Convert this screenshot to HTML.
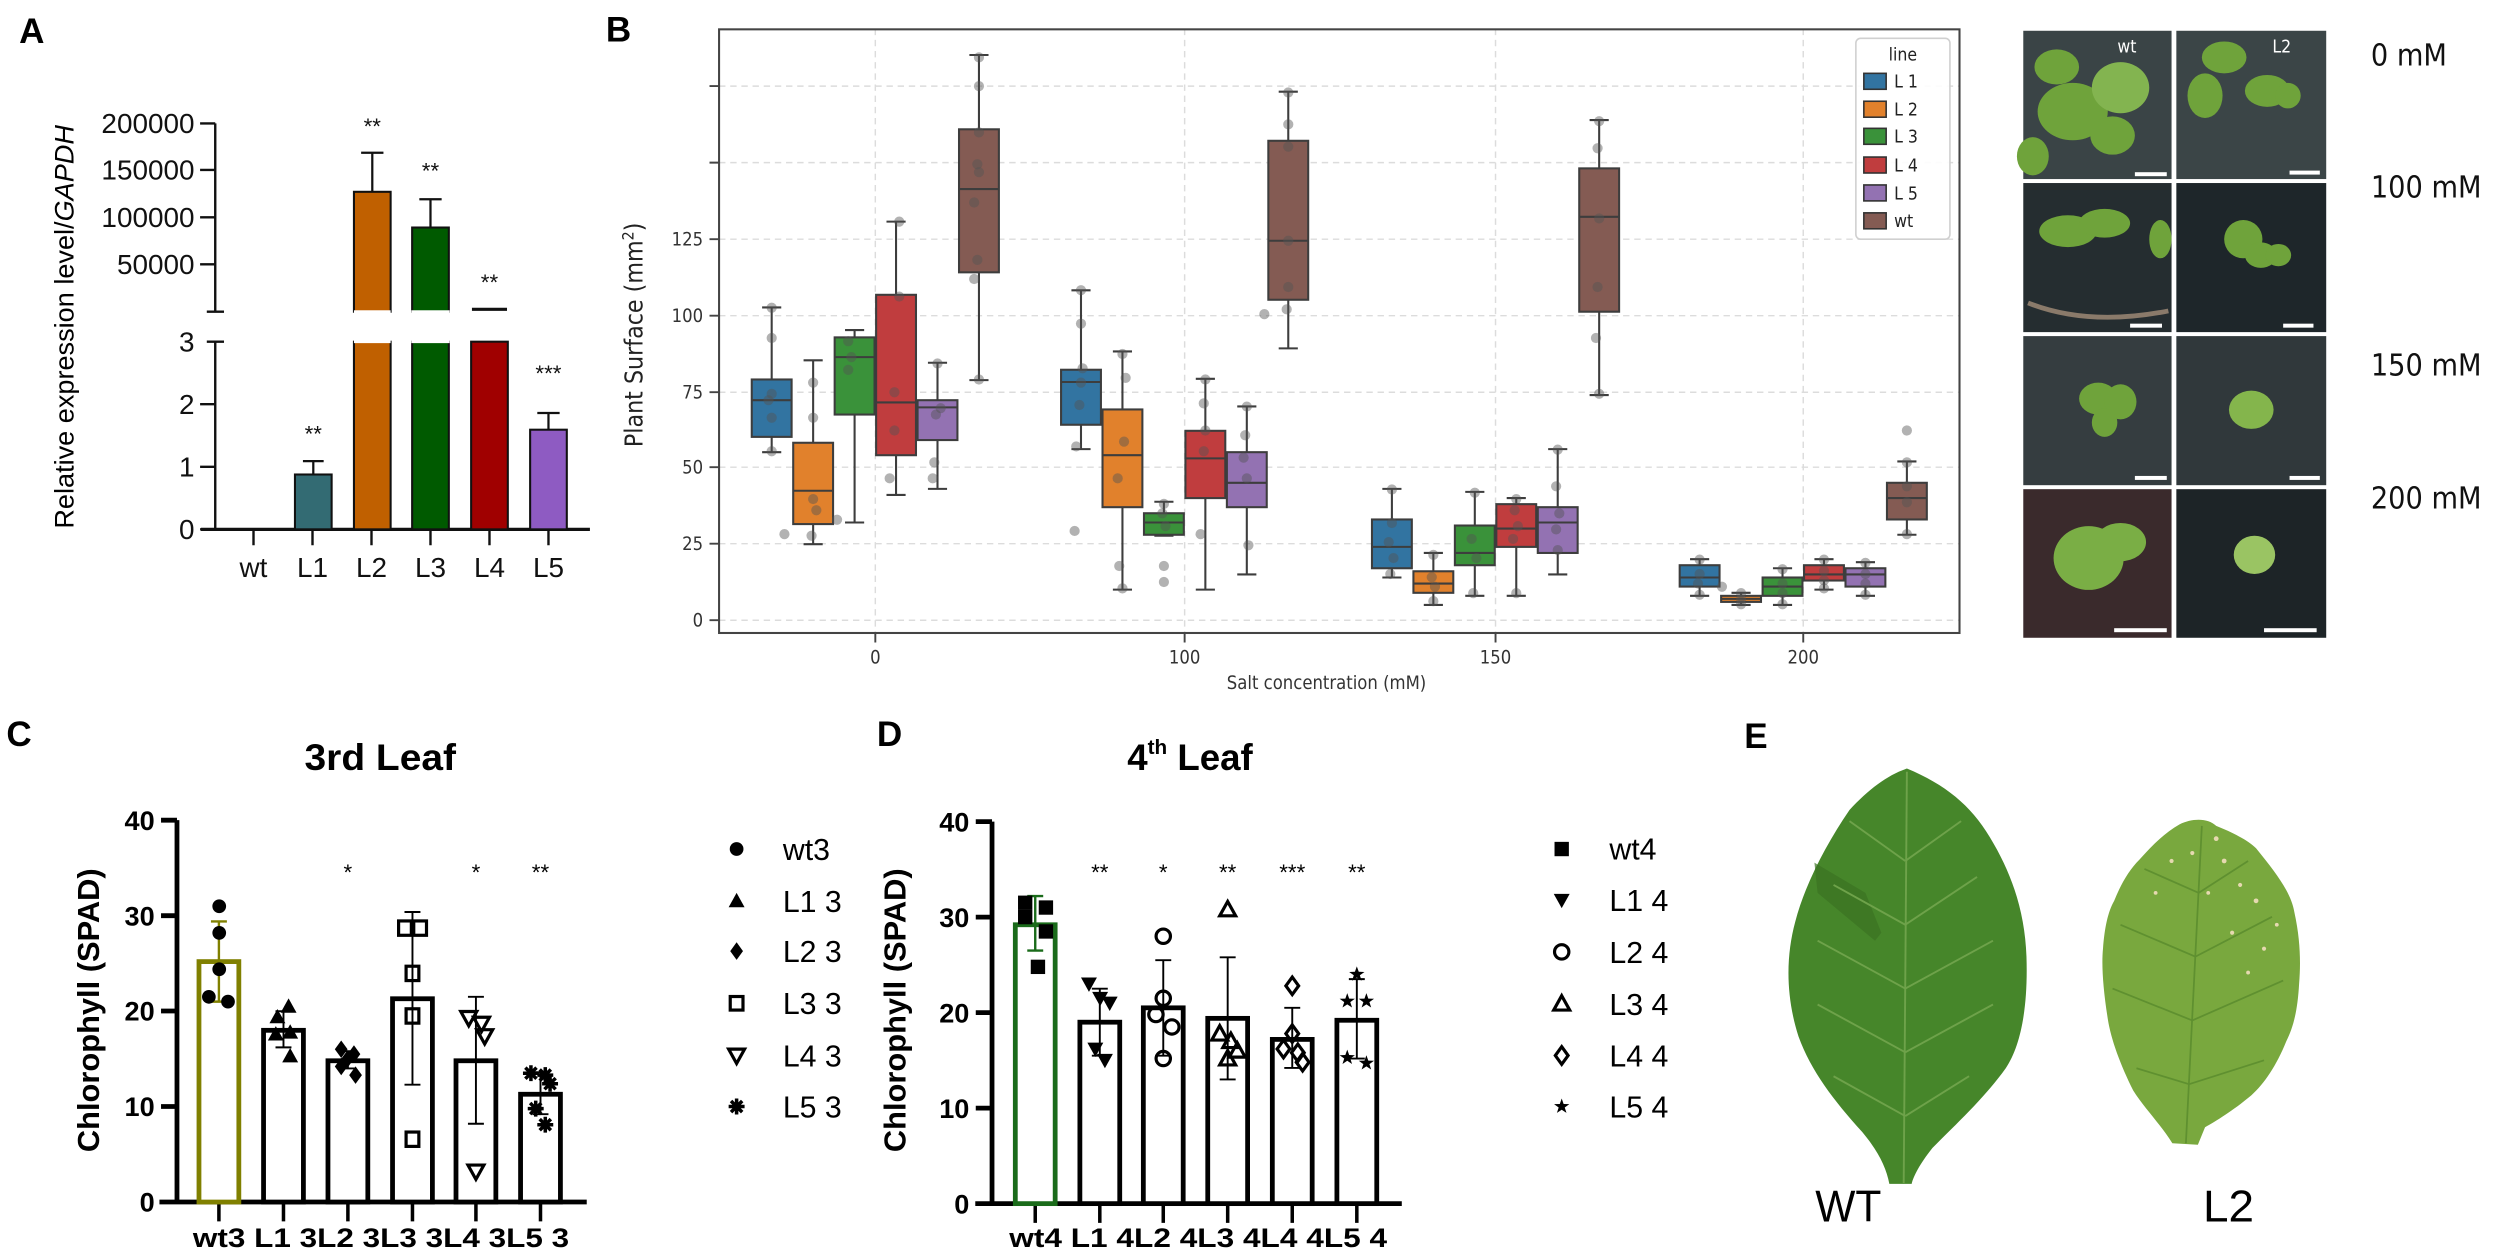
<!DOCTYPE html>
<html><head><meta charset="utf-8"><style>
html,body{margin:0;padding:0;background:#fff;}
svg{display:block;}
.n{font-family:"Liberation Sans Narrow","Liberation Sans",sans-serif;}
.s{font-family:"Liberation Sans",sans-serif;}
.dj{font-family:"DejaVu Sans Condensed","DejaVu Sans",sans-serif;}
</style></head><body>
<svg width="2500" height="1258" viewBox="0 0 1568 789" preserveAspectRatio="none" xmlns="http://www.w3.org/2000/svg">
<defs>
<path id="tri" d="M0,-5 L5,4 L-5,4Z"/>
<path id="itri" d="M0,5 L5,-4 L-5,-4Z"/>
<path id="dia" d="M0,-5.5 L4,0 L0,5.5 L-4,0Z"/>
<path id="ast" d="M0,-5V5M-5,0H5M-3.5,-3.5L3.5,3.5M-3.5,3.5L3.5,-3.5"/>
<path id="star" d="M0,-5 L1.2,-1.6 L4.8,-1.5 L1.9,0.6 L3,4 L0,2 L-3,4 L-1.9,0.6 L-4.8,-1.5 L-1.2,-1.6Z"/>
</defs>
<rect width="1568" height="789" fill="#fff"/>

<!-- ============ PANEL A ============ -->
<text x="12" y="27" class="s" font-weight="bold" font-size="22">A</text>
<text transform="translate(46,205) rotate(-90)" text-anchor="middle" class="s" font-size="17">Relative expression level/<tspan font-style="italic">GAPDH</tspan></text>
<g stroke="#111" stroke-width="1.5" fill="none">
<path d="M135,77.4V195.5M129.7,195.5H140.5M125.5,77.4H135M125.5,106.6H135M125.5,136.3H135M125.5,165.8H135"/>
<path d="M135,214.3V332M129.7,214.3H140.5M125.5,253.5H135M125.5,292.8H135M125.5,332H135"/>
<path d="M126,332H370" stroke-width="2"/>
<path d="M159,332V342M196,332V342M233,332V342M270,332V342M307,332V342M344,332V342"/>
</g>
<g class="n" font-size="17.5" text-anchor="end" fill="#111">
<text x="122" y="83.5">200000</text><text x="122" y="112.7">150000</text><text x="122" y="142.4">100000</text><text x="122" y="171.9">50000</text>
<text x="122" y="220.4">3</text><text x="122" y="259.6">2</text><text x="122" y="298.9">1</text><text x="122" y="338">0</text>
</g>
<g class="n" font-size="17.5" text-anchor="middle" fill="#111">
<text x="159" y="362">wt</text><text x="196" y="362">L1</text><text x="233" y="362">L2</text><text x="270" y="362">L3</text><text x="307" y="362">L4</text><text x="344" y="362">L5</text>
</g>
<g stroke="#111" stroke-width="1.3">
<rect x="185" y="297.6" width="23" height="34.4" fill="#336b73"/>
<rect x="222" y="214.3" width="23" height="117.7" fill="#c06000"/>
<rect x="222" y="120.3" width="23" height="75.2" fill="#c06000"/>
<rect x="258.5" y="214.3" width="23" height="117.7" fill="#005a00"/>
<rect x="258.5" y="142.7" width="23" height="52.8" fill="#005a00"/>
<rect x="295.5" y="214.3" width="23" height="117.7" fill="#a00000"/>
<rect x="332.5" y="269.5" width="23" height="62.5" fill="#8e5bc2"/>
</g>
<rect x="222" y="194.6" width="23" height="20.6" fill="#fff"/>
<rect x="258" y="194.6" width="24" height="20.6" fill="#fff"/>
<g stroke="#111" stroke-width="1.4" fill="none">
<path d="M196.5,297.6V289.2M190,289.2H203"/>
<path d="M233.5,120.3V95.8M226.5,95.8H240.5"/>
<path d="M270,142.7V125M263,125H277"/>
<path d="M296,194H318" stroke-width="2"/>
<path d="M344,269.5V259M337,259H351"/>
</g>
<g class="s" font-size="14" text-anchor="middle" fill="#111">
<text x="196.5" y="277">**</text><text x="233.5" y="84">**</text><text x="270" y="112">**</text><text x="307" y="182">**</text><text x="344" y="239">***</text>
</g>

<!-- ============ PANEL B ============ -->
<text x="380" y="26" class="s" font-weight="bold" font-size="22">B</text>
<g stroke="#dcdcdc" stroke-width="0.9" stroke-dasharray="4,3" fill="none">
<path d="M451,389H1229M451,341H1229M451,293H1229M451,246H1229M451,198H1229M451,150H1229M451,102H1229M451,54H1229"/>
<path d="M549,18V397M743,18V397M938,18V397M1131,18V397"/>
</g>
<rect x="451" y="18.4" width="778" height="378.6" fill="none" stroke="#444" stroke-width="1.3"/>
<g stroke="#444" stroke-width="1.2">
<path d="M445,389H451M445,341H451M445,293H451M445,246H451M445,198H451M445,150H451M445,102H451M445,54H451"/>
<path d="M549,397V403M743,397V403M938,397V403M1131,397V403"/>
</g>
<g class="dj" font-size="11.5" fill="#333" text-anchor="end">
<text x="441" y="393">0</text><text x="441" y="345">25</text><text x="441" y="297">50</text><text x="441" y="250">75</text><text x="441" y="202">100</text><text x="441" y="154">125</text>
</g>
<g class="dj" font-size="11.5" fill="#333" text-anchor="middle">
<text x="549" y="416">0</text><text x="743" y="416">100</text><text x="938" y="416">150</text><text x="1131" y="416">200</text>
<text x="832" y="432">Salt concentration (mM)</text>
</g>
<text transform="translate(403,210) rotate(-90)" text-anchor="middle" class="dj" font-size="15.5" fill="#222">Plant Surface (mm<tspan baseline-shift="super" font-size="10">2</tspan>)</text>

<g stroke="#3d3d3d" stroke-width="1.3">
<!-- G0 -->
<path d="M484,283.6V274M484,238V192.8M478,283.6H490M478,192.8H490M510,341.3V328.7M510,277.7V226M504,341.3H516M504,226H516M536,327.7V260M536,211.6V207M530,327.7H542M530,207H542M562,310.4V285.5M562,184.9V139M556,310.4H568M556,139H568M588,306.6V276M588,251V227.5M582,306.6H594M582,227.5H594M614,238.4V170.8M614,81.1V34.5M608,238.4H620M608,34.5H620" fill="none"/>
<rect x="471.5" y="238" width="25" height="36" fill="#3274a1"/>
<rect x="497.5" y="277.7" width="25" height="51" fill="#e1812c"/>
<rect x="523.5" y="211.6" width="25" height="48.4" fill="#3a923a"/>
<rect x="549.5" y="184.9" width="25" height="100.6" fill="#c03d3e"/>
<rect x="575.5" y="251" width="25" height="25" fill="#9372b2"/>
<rect x="601.5" y="81.1" width="25" height="89.7" fill="#845b53"/>
<path d="M471.5,251H496.5M497.5,307.8H522.5M523.5,224H548.5M549.5,252.4H574.5M575.5,255.5H600.5M601.5,118.6H626.5"/>
<!-- G100 -->
<path d="M678,281.7V266.4M678,231.9V182.1M672,281.7H684M672,182.1H684M704,369.8V318.1M704,256.8V220.4M698,369.8H710M698,220.4H710M730,336V335.4M730,321.9V314.7M724,336H736M724,314.7H736M756,369.8V312.4M756,270.2V237.6M750,369.8H762M750,237.6H762M782,360.3V318.1M782,283.6V254.9M776,360.3H788M776,254.9H788M808,218.5V188M808,88.3V57.5M802,218.5H814M802,57.5H814" fill="none"/>
<rect x="665.5" y="231.9" width="25" height="34.5" fill="#3274a1"/>
<rect x="691.5" y="256.8" width="25" height="61.3" fill="#e1812c"/>
<rect x="717.5" y="321.9" width="25" height="13.5" fill="#3a923a"/>
<rect x="743.5" y="270.2" width="25" height="42.2" fill="#c03d3e"/>
<rect x="769.5" y="283.6" width="25" height="34.5" fill="#9372b2"/>
<rect x="795.5" y="88.3" width="25" height="99.7" fill="#845b53"/>
<path d="M665.5,239.6H690.5M691.5,285.5H716.5M717.5,327.7H742.5M743.5,287.5H768.5M769.5,302.8H794.5M795.5,151H820.5"/>
<!-- G150 -->
<path d="M873,362.2V356.4M873,325.8V306.6M867,362.2H879M867,306.6H879M899,379.4V371.8M899,358.3V346.8M893,379.4H905M893,346.8H905M925,373.7V354.5M925,329.6V308.5M919,373.7H931M919,308.5H931M951,373.7V343M951,316.2V312.4M945,373.7H957M945,312.4H957M977,360.3V346.8M977,318.1V281.7M971,360.3H983M971,281.7H983M1003,247.8V195.5M1003,105.6V75.3M997,247.8H1009M997,75.3H1009" fill="none"/>
<rect x="860.5" y="325.8" width="25" height="30.6" fill="#3274a1"/>
<rect x="886.5" y="358.3" width="25" height="13.5" fill="#e1812c"/>
<rect x="912.5" y="329.6" width="25" height="24.9" fill="#3a923a"/>
<rect x="938.5" y="316.2" width="25" height="26.8" fill="#c03d3e"/>
<rect x="964.5" y="318.1" width="25" height="28.7" fill="#9372b2"/>
<rect x="990.5" y="105.6" width="25" height="89.9" fill="#845b53"/>
<path d="M860.5,343H885.5M886.5,366H911.5M912.5,346.8H937.5M938.5,331.5H963.5M964.5,327.7H989.5M990.5,136H1015.5"/>
<!-- G200 -->
<path d="M1066,373.7V367.9M1066,354.5V350.7M1060,373.7H1072M1060,350.7H1072M1092,379.4V377.5M1092,373.7V371.8M1086,379.4H1098M1086,371.8H1098M1118,379.4V373.7M1118,362.2V356.4M1112,379.4H1124M1112,356.4H1124M1144,369.8V364.1M1144,354.5V350.7M1138,369.8H1150M1138,350.7H1150M1170,373.7V367.9M1170,356.4V352.6M1164,373.7H1176M1164,352.6H1176M1196,335.4V325.8M1196,302.8V289.4M1190,335.4H1202M1190,289.4H1202" fill="none"/>
<rect x="1053.5" y="354.5" width="25" height="13.4" fill="#3274a1"/>
<rect x="1079.5" y="373.7" width="25" height="3.8" fill="#e1812c"/>
<rect x="1105.5" y="362.2" width="25" height="11.5" fill="#3a923a"/>
<rect x="1131.5" y="354.5" width="25" height="9.6" fill="#c03d3e"/>
<rect x="1157.5" y="356.4" width="25" height="11.5" fill="#9372b2"/>
<rect x="1183.5" y="302.8" width="25" height="23" fill="#845b53"/>
<path d="M1053.5,362.2H1078.5M1079.5,375.6H1104.5M1105.5,367.9H1130.5M1131.5,360.3H1156.5M1157.5,360.3H1182.5M1183.5,312.4H1208.5"/>
</g>
<g fill="#555" fill-opacity="0.45">
<circle cx="484" cy="193" r="3.2"/><circle cx="484" cy="212" r="3.2"/><circle cx="482" cy="251" r="3.2"/><circle cx="484" cy="262" r="3.2"/><circle cx="484" cy="283" r="3.2"/><circle cx="484" cy="247" r="3.2"/>
<circle cx="510" cy="240" r="3.2"/><circle cx="510" cy="262" r="3.2"/><circle cx="510" cy="313" r="3.2"/><circle cx="512" cy="320" r="3.2"/><circle cx="509" cy="336" r="3.2"/><circle cx="492" cy="335" r="3.2"/>
<circle cx="532" cy="214" r="3.2"/><circle cx="534" cy="224" r="3.2"/><circle cx="532" cy="232" r="3.2"/><circle cx="525" cy="326" r="3.2"/>
<circle cx="564" cy="139" r="3.2"/><circle cx="564" cy="186" r="3.2"/><circle cx="561" cy="246" r="3.2"/><circle cx="561" cy="270" r="3.2"/><circle cx="558" cy="300" r="3.2"/>
<circle cx="588" cy="228" r="3.2"/><circle cx="590" cy="256" r="3.2"/><circle cx="587" cy="260" r="3.2"/><circle cx="586" cy="290" r="3.2"/><circle cx="585" cy="300" r="3.2"/>
<circle cx="614" cy="36" r="3.2"/><circle cx="614" cy="54" r="3.2"/><circle cx="614" cy="83" r="3.2"/><circle cx="613" cy="103" r="3.2"/><circle cx="614" cy="108" r="3.2"/><circle cx="611" cy="127" r="3.2"/><circle cx="613" cy="163" r="3.2"/><circle cx="611" cy="175" r="3.2"/><circle cx="614" cy="238" r="3.2"/>
<circle cx="678" cy="182" r="3.2"/><circle cx="678" cy="203" r="3.2"/><circle cx="679" cy="231" r="3.2"/><circle cx="678" cy="240" r="3.2"/><circle cx="677" cy="254" r="3.2"/><circle cx="675" cy="280" r="3.2"/>
<circle cx="704" cy="222" r="3.2"/><circle cx="706" cy="237" r="3.2"/><circle cx="705" cy="277" r="3.2"/><circle cx="701" cy="300" r="3.2"/><circle cx="702" cy="355" r="3.2"/><circle cx="704" cy="369" r="3.2"/><circle cx="674" cy="333" r="3.2"/>
<circle cx="730" cy="316" r="3.2"/><circle cx="729" cy="322" r="3.2"/><circle cx="731" cy="330" r="3.2"/><circle cx="730" cy="355" r="3.2"/><circle cx="730" cy="365" r="3.2"/>
<circle cx="756" cy="238" r="3.2"/><circle cx="755" cy="253" r="3.2"/><circle cx="756" cy="270" r="3.2"/><circle cx="755" cy="283" r="3.2"/><circle cx="753" cy="335" r="3.2"/>
<circle cx="782" cy="255" r="3.2"/><circle cx="781" cy="273" r="3.2"/><circle cx="780" cy="287" r="3.2"/><circle cx="782" cy="300" r="3.2"/><circle cx="783" cy="342" r="3.2"/>
<circle cx="808" cy="58" r="3.2"/><circle cx="808" cy="78" r="3.2"/><circle cx="808" cy="92" r="3.2"/><circle cx="808" cy="151" r="3.2"/><circle cx="808" cy="180" r="3.2"/><circle cx="807" cy="194" r="3.2"/><circle cx="793" cy="197" r="3.2"/>
<circle cx="873" cy="307" r="3.2"/><circle cx="873" cy="328" r="3.2"/><circle cx="871" cy="340" r="3.2"/><circle cx="874" cy="350" r="3.2"/><circle cx="872" cy="360" r="3.2"/>
<circle cx="899" cy="348" r="3.2"/><circle cx="898" cy="362" r="3.2"/><circle cx="900" cy="368" r="3.2"/><circle cx="899" cy="377" r="3.2"/>
<circle cx="925" cy="309" r="3.2"/><circle cx="923" cy="338" r="3.2"/><circle cx="926" cy="350" r="3.2"/><circle cx="924" cy="372" r="3.2"/>
<circle cx="951" cy="313" r="3.2"/><circle cx="950" cy="320" r="3.2"/><circle cx="952" cy="330" r="3.2"/><circle cx="949" cy="338" r="3.2"/><circle cx="951" cy="372" r="3.2"/>
<circle cx="977" cy="282" r="3.2"/><circle cx="976" cy="305" r="3.2"/><circle cx="978" cy="322" r="3.2"/><circle cx="976" cy="332" r="3.2"/><circle cx="977" cy="345" r="3.2"/>
<circle cx="1003" cy="76" r="3.2"/><circle cx="1002" cy="93" r="3.2"/><circle cx="1003" cy="137" r="3.2"/><circle cx="1002" cy="180" r="3.2"/><circle cx="1001" cy="212" r="3.2"/><circle cx="1003" cy="247" r="3.2"/>
<circle cx="1066" cy="351" r="3.2"/><circle cx="1066" cy="360" r="3.2"/><circle cx="1065" cy="366" r="3.2"/><circle cx="1066" cy="373" r="3.2"/>
<circle cx="1092" cy="372" r="3.2"/><circle cx="1092" cy="376" r="3.2"/><circle cx="1092" cy="379" r="3.2"/><circle cx="1080" cy="368" r="3.2"/>
<circle cx="1118" cy="357" r="3.2"/><circle cx="1118" cy="366" r="3.2"/><circle cx="1118" cy="372" r="3.2"/><circle cx="1118" cy="379" r="3.2"/>
<circle cx="1144" cy="351" r="3.2"/><circle cx="1144" cy="358" r="3.2"/><circle cx="1144" cy="364" r="3.2"/><circle cx="1144" cy="369" r="3.2"/>
<circle cx="1170" cy="353" r="3.2"/><circle cx="1170" cy="360" r="3.2"/><circle cx="1170" cy="366" r="3.2"/><circle cx="1170" cy="373" r="3.2"/>
<circle cx="1196" cy="270" r="3.2"/><circle cx="1196" cy="290" r="3.2"/><circle cx="1196" cy="305" r="3.2"/><circle cx="1196" cy="315" r="3.2"/><circle cx="1196" cy="335" r="3.2"/>
</g>
<!-- legend B -->
<rect x="1164" y="24" width="59" height="126" rx="3" fill="#fff" fill-opacity="0.9" stroke="#d0d0d0" stroke-width="1"/>
<text x="1193.5" y="38" text-anchor="middle" class="dj" font-size="11" fill="#222">line</text>
<g stroke="#333" stroke-width="1">
<rect x="1169" y="46" width="14" height="10" fill="#3274a1"/>
<rect x="1169" y="63.5" width="14" height="10" fill="#e1812c"/>
<rect x="1169" y="80.5" width="14" height="10" fill="#3a923a"/>
<rect x="1169" y="98.5" width="14" height="10" fill="#c03d3e"/>
<rect x="1169" y="116" width="14" height="10" fill="#9372b2"/>
<rect x="1169" y="133.5" width="14" height="10" fill="#845b53"/>
</g>
<g class="dj" font-size="11" fill="#222">
<text x="1188" y="55">L 1</text><text x="1188" y="72.5">L 2</text><text x="1188" y="89.5">L 3</text><text x="1188" y="107.5">L 4</text><text x="1188" y="125">L 5</text><text x="1188" y="142.5">wt</text>
</g>

<!-- ============ Photos ============ -->
<g>
<rect x="1269" y="19.3" width="93" height="93" fill="#3a4446"/>
<rect x="1365" y="19.3" width="94" height="93" fill="#3b4547"/>
<rect x="1269" y="114.8" width="93" height="93.5" fill="#252d30"/>
<rect x="1365" y="114.8" width="94" height="93.5" fill="#1e262a"/>
<rect x="1269" y="210.8" width="93" height="93.5" fill="#353d40"/>
<rect x="1365" y="210.8" width="94" height="93.5" fill="#30383b"/>
<rect x="1269" y="306.8" width="93" height="93.2" fill="#3a2a2c"/>
<rect x="1365" y="306.8" width="94" height="93.2" fill="#1d2427"/>
</g>
<g fill="#6fa33b">
<ellipse cx="1300" cy="70" rx="22" ry="18"/><ellipse cx="1330" cy="55" rx="18" ry="16" fill="#83b450"/><ellipse cx="1290" cy="42" rx="14" ry="11"/><ellipse cx="1325" cy="85" rx="14" ry="12"/><ellipse cx="1275" cy="98" rx="10" ry="12"/>
<ellipse cx="1383" cy="60" rx="11" ry="14"/><ellipse cx="1395" cy="36" rx="14" ry="10"/><ellipse cx="1422" cy="57" rx="14" ry="10"/><ellipse cx="1435" cy="60" rx="8" ry="8"/>
<ellipse cx="1297" cy="145" rx="18" ry="10"/><ellipse cx="1320" cy="140" rx="16" ry="9"/><ellipse cx="1355" cy="150" rx="7" ry="12"/>
<ellipse cx="1407" cy="150" rx="12" ry="12"/><ellipse cx="1418" cy="160" rx="10" ry="8"/><ellipse cx="1429" cy="160" rx="8" ry="7"/>
<ellipse cx="1316" cy="250" rx="12" ry="10"/><ellipse cx="1330" cy="252" rx="10" ry="11"/><ellipse cx="1320" cy="265" rx="8" ry="9"/>
<ellipse cx="1412" cy="257" rx="14" ry="12" fill="#84b54c"/>
<ellipse cx="1310" cy="350" rx="22" ry="20" fill="#7aae45"/><ellipse cx="1330" cy="340" rx="16" ry="12" fill="#7aae45"/>
<ellipse cx="1414" cy="348" rx="13" ry="12" fill="#9ac463"/>
</g>
<path d="M1272,190 Q1310,205 1360,195" stroke="#8a7a6a" stroke-width="3" fill="none"/>
<g fill="#fff">
<rect x="1339" y="108" width="20" height="2.5"/><rect x="1436" y="107" width="19" height="2.5"/>
<rect x="1336" y="203" width="20" height="2.5"/><rect x="1432" y="203" width="19" height="2.5"/>
<rect x="1339" y="298.5" width="20" height="2.5"/><rect x="1436" y="298.5" width="19" height="2.5"/>
<rect x="1326" y="394" width="33" height="2.5"/><rect x="1420" y="394" width="33" height="2.5"/>
</g>
<text x="1340" y="33" class="dj" font-size="11" fill="#fff" text-anchor="end">wt</text>
<text x="1437" y="33" class="dj" font-size="11" fill="#fff" text-anchor="end">L2</text>
<g class="dj" font-size="19" fill="#111">
<text x="1487" y="41">0 mM</text><text x="1487" y="124">100 mM</text><text x="1487" y="235.5">150 mM</text><text x="1487" y="319">200 mM</text>
</g>

<!-- ============ PANEL C ============ -->
<text x="4" y="468" class="s" font-weight="bold" font-size="22">C</text>
<text x="238.5" y="483" text-anchor="middle" class="n" font-weight="bold" font-size="23" textLength="95" lengthAdjust="spacingAndGlyphs">3rd Leaf</text>
<text transform="translate(62,633.6) rotate(-90)" text-anchor="middle" class="s" font-weight="bold" font-size="19" textLength="178" lengthAdjust="spacingAndGlyphs">Chlorophyll (SPAD)</text>
<g stroke="#000" stroke-width="3" fill="none">
<path d="M111,514.4V755.4M100,753.9H368M101,514.4H111M101,574.3H111M101,634.1H111M101,694H111"/>
<path d="M137.3,755V766M177.8,755V766M218.2,755V766M258.7,755V766M298.5,755V766M339,755V766" stroke-width="2.2"/>
</g>
<g class="n" font-weight="bold" font-size="17" text-anchor="end" fill="#000">
<text x="97" y="520.5">40</text><text x="97" y="580.4">30</text><text x="97" y="640.2">20</text><text x="97" y="700.1">10</text><text x="97" y="760">0</text>
</g>
<text x="121" y="782" class="n" font-weight="bold" font-size="17" textLength="236" lengthAdjust="spacingAndGlyphs">wt3 L1 3L2 3L3 3L4 3L5 3</text>
<g fill="#fff" stroke="#000" stroke-width="3">
<rect x="124.8" y="603.1" width="25" height="150.8" stroke="#808000"/>
<rect x="165.3" y="646.2" width="25" height="107.7"/>
<rect x="205.7" y="665.3" width="25" height="88.6"/>
<rect x="246.2" y="626.4" width="25" height="127.5"/>
<rect x="286" y="665.3" width="25" height="88.6"/>
<rect x="326.5" y="686.3" width="25" height="67.6"/>
</g>
<g stroke="#000" stroke-width="1.2" fill="none">
<path d="M137.3,628.2V577.9M132.3,628.2H142.3M132.3,577.9H142.3" stroke="#808000" stroke-width="1.5"/>
<path d="M177.8,656.9V634.2M172.8,656.9H182.8M172.8,634.2H182.8"/>
<path d="M218.2,670.1V659.3M213.2,670.1H223.2M213.2,659.3H223.2"/>
<path d="M258.7,680.3V572M253.7,680.3H263.7M253.7,572H263.7"/>
<path d="M298.5,704.8V625.2M293.5,704.8H303.5M293.5,625.2H303.5"/>
<path d="M339,698.8V672.5M334,698.8H344M334,672.5H344"/>
</g>
<g fill="#000">
<circle cx="137.5" cy="568.4" r="4.3"/><circle cx="137.5" cy="585.1" r="4.3"/><circle cx="137.5" cy="607.9" r="4.3"/><circle cx="131" cy="625.2" r="4.3"/><circle cx="143" cy="628.2" r="4.3"/>
<use href="#tri" x="181" y="631.2"/><use href="#tri" x="174" y="637.8"/><use href="#tri" x="182" y="647.4"/><use href="#tri" x="173" y="648.6"/><use href="#tri" x="182" y="662.3"/>
<use href="#dia" x="214" y="658.1"/><use href="#dia" x="222" y="661.1"/><use href="#dia" x="218" y="664.1"/><use href="#dia" x="214" y="668.9"/><use href="#dia" x="223" y="674.3"/>
</g>
<g fill="none" stroke="#000" stroke-width="2">
<rect x="250" y="577.6" width="8" height="9"/><rect x="259.5" y="577.6" width="8" height="9"/><rect x="254.7" y="606" width="8" height="9"/><rect x="254.7" y="632.7" width="8" height="9"/><rect x="254.7" y="710" width="8" height="9"/>
<use href="#itri" x="294" y="638.4"/><use href="#itri" x="302" y="642"/><use href="#itri" x="304" y="649.8"/><use href="#itri" x="298.5" y="734.7"/>
<g stroke-width="2.2"><use href="#ast" x="333" y="673.1"/><use href="#ast" x="342" y="674.3"/><use href="#ast" x="345" y="679.7"/><use href="#ast" x="336" y="695.3"/><use href="#ast" x="342" y="705.4"/></g>
</g>
<g class="s" font-size="14" text-anchor="middle" fill="#000">
<text x="218.2" y="552">*</text><text x="298.5" y="552">*</text><text x="339" y="552">**</text>
</g>
<!-- legend C -->
<g fill="#000">
<circle cx="462" cy="532.5" r="4.3"/><use href="#tri" x="462" y="565"/><use href="#dia" x="462" y="596.5"/>
</g>
<g fill="none" stroke="#000" stroke-width="2">
<rect x="458" y="625" width="8" height="8.5"/><use href="#itri" x="462" y="662"/>
<use href="#ast" x="462" y="694" stroke-width="2.2"/>
</g>
<g class="n" font-size="19" fill="#000">
<text x="491" y="539.5">wt3</text><text x="491" y="572">L1 3</text><text x="491" y="603.5">L2 3</text><text x="491" y="636">L3 3</text><text x="491" y="669">L4 3</text><text x="491" y="701">L5 3</text>
</g>

<!-- ============ PANEL D ============ -->
<text x="550" y="468" class="s" font-weight="bold" font-size="22">D</text>
<text x="707" y="483" class="n" font-weight="bold" font-size="23">4<tspan font-size="13" dy="-10">th</tspan><tspan dy="10"> Leaf</tspan></text>
<text transform="translate(568,633.6) rotate(-90)" text-anchor="middle" class="s" font-weight="bold" font-size="19" textLength="178" lengthAdjust="spacingAndGlyphs">Chlorophyll (SPAD)</text>
<g stroke="#000" stroke-width="3" fill="none">
<path d="M622.2,515.3V756.4M611.7,754.9H879.2M612,515.3H622.2M612,575.2H622.2M612,635.1H622.2M612,695H622.2"/>
<path d="M649.3,756V767M689.8,756V767M729.6,756V767M770,756V767M810.5,756V767M851,756V767" stroke-width="2.2"/>
</g>
<g class="n" font-weight="bold" font-size="17" text-anchor="end" fill="#000">
<text x="608" y="521.4">40</text><text x="608" y="581.3">30</text><text x="608" y="641.2">20</text><text x="608" y="701.1">10</text><text x="608" y="761">0</text>
</g>
<text x="633" y="782" class="n" font-weight="bold" font-size="17" textLength="237" lengthAdjust="spacingAndGlyphs">wt4 L1 4L2 4L3 4L4 4L5 4</text>
<g fill="#fff" stroke="#000" stroke-width="3">
<rect x="636.8" y="580" width="25" height="174.9" stroke="#1a6b1a"/>
<rect x="677.3" y="641.1" width="25" height="113.8"/>
<rect x="717.1" y="632.1" width="25" height="122.8"/>
<rect x="757.5" y="638.7" width="25" height="116.2"/>
<rect x="798" y="651.9" width="25" height="103"/>
<rect x="838.5" y="639.9" width="25" height="115"/>
</g>
<g stroke="#000" stroke-width="1.2" fill="none">
<path d="M649.3,596.2V562M644.3,596.2H654.3M644.3,562H654.3" stroke="#1a6b1a" stroke-width="1.5"/>
<path d="M689.8,662.1V620.1M684.8,662.1H694.8M684.8,620.1H694.8"/>
<path d="M729.6,662.1V602.2M724.6,662.1H734.6M724.6,602.2H734.6"/>
<path d="M770,677V600.4M765,677H775M765,600.4H775"/>
<path d="M810.5,669.8V632.1M805.5,669.8H815.5M805.5,632.1H815.5"/>
<path d="M851,663.9V614.1M846,663.9H856M846,614.1H856"/>
</g>
<g fill="#000">
<rect x="638.5" y="561.7" width="9" height="9"/><rect x="651.5" y="564.7" width="9" height="9"/><rect x="638.5" y="570.7" width="9" height="9"/><rect x="651.5" y="579.7" width="9" height="9"/><rect x="646.5" y="601.9" width="9" height="9"/>
<use href="#itri" x="683" y="617.1"/><use href="#itri" x="690" y="626.1"/><use href="#itri" x="696" y="629.1"/><use href="#itri" x="687" y="657.9"/><use href="#itri" x="693" y="665"/>
<use href="#star" x="851" y="611.1"/><use href="#star" x="845" y="627.9"/><use href="#star" x="857" y="627.9"/><use href="#star" x="845" y="663.3"/><use href="#star" x="857" y="666.8"/>
</g>
<g fill="none" stroke="#000" stroke-width="2">
<circle cx="729.6" cy="587.2" r="4.5"/><circle cx="729.6" cy="626.1" r="4.5"/><circle cx="725" cy="636.3" r="4.5"/><circle cx="735" cy="644.1" r="4.5"/><circle cx="729.6" cy="663.9" r="4.5"/>
<use href="#tri" x="770" y="570.4"/><use href="#tri" x="765" y="648.3"/><use href="#tri" x="772" y="653"/><use href="#tri" x="776" y="659"/><use href="#tri" x="770" y="663.9"/>
<use href="#dia" x="810.5" y="618.3"/><use href="#dia" x="810.5" y="648.3"/><use href="#dia" x="805" y="657.9"/><use href="#dia" x="814" y="660.3"/><use href="#dia" x="817" y="666.2"/>
</g>
<g class="s" font-size="14" text-anchor="middle" fill="#000">
<text x="689.8" y="552">**</text><text x="729.6" y="552">*</text><text x="770" y="552">**</text><text x="810.5" y="552">***</text><text x="851" y="552">**</text>
</g>
<!-- legend D -->
<g fill="#000">
<rect x="975" y="528" width="9" height="9"/><use href="#itri" x="979.5" y="564.6"/><use href="#star" x="979.5" y="694"/>
</g>
<g fill="none" stroke="#000" stroke-width="2">
<circle cx="979.5" cy="597" r="4.5"/><use href="#tri" x="979.5" y="629.5"/><use href="#dia" x="979.5" y="662"/>
</g>
<g class="n" font-size="19" fill="#000">
<text x="1009.4" y="539">wt4</text><text x="1009.4" y="571.5">L1 4</text><text x="1009.4" y="604">L2 4</text><text x="1009.4" y="636.5">L3 4</text><text x="1009.4" y="669">L4 4</text><text x="1009.4" y="701">L5 4</text>
</g>

<!-- ============ PANEL E ============ -->
<text x="1094" y="469" class="s" font-weight="bold" font-size="22">E</text>
<path d="M1196,482 C1220,492 1236,505 1248,525 C1262,548 1270,572 1271,600 C1272,630 1268,655 1258,670 C1245,688 1230,702 1212,720 C1204,730 1200,738 1199,742.5 L1185,742.5 C1183,732 1178,722 1168,710 C1150,690 1136,672 1128,650 C1120,625 1120,600 1126,578 C1132,555 1145,530 1160,508 C1172,495 1184,486 1196,482Z" fill="#46862a"/>
<path d="M1138,541 L1170,560 L1180,585 L1176,590 L1140,560Z" fill="#3a7222" opacity="0.7"/>
<g stroke="#6ea24a" stroke-width="1.2" fill="none">
<path d="M1196,484 L1194,742"/>
<path d="M1195,540 L1230,515M1195,540 L1160,515M1195,580 L1240,550M1195,580 L1150,555M1195,620 L1250,590M1195,620 L1140,590M1195,660 L1250,630M1195,660 L1140,630M1195,700 L1235,675M1195,700 L1150,675"/>
</g>
<path d="M1367,517 C1375,513 1385,513 1390,518 C1400,522 1410,527 1415,532 C1428,548 1437,560 1439,572 C1443,590 1443,605 1442,617 C1441,635 1438,645 1434,653 C1428,668 1420,680 1412,687 C1400,697 1390,703 1383,707 L1378.5,718 L1362.5,717 C1355,705 1345,695 1338,684 C1330,668 1324,652 1322,639 C1319,620 1318,605 1319,595 C1320,582 1322,572 1326,565 C1330,555 1335,546 1342,539 C1350,530 1358,522 1367,517Z" fill="#79a83e"/>
<g stroke="#5f9030" stroke-width="1.1" fill="none">
<path d="M1381,518 L1371,717"/>
<path d="M1379,560 L1410,540M1379,560 L1345,545M1377,600 L1425,575M1377,600 L1330,580M1375,640 L1432,615M1375,640 L1325,620M1373,680 L1420,665M1373,680 L1340,670"/>
</g>
<g fill="#e6d9b0">
<circle cx="1362" cy="540" r="1.3"/><circle cx="1375" cy="535" r="1.3"/><circle cx="1395" cy="540" r="1.5"/><circle cx="1405" cy="555" r="1.3"/><circle cx="1415" cy="565" r="1.5"/><circle cx="1385" cy="560" r="1.2"/><circle cx="1400" cy="585" r="1.3"/><circle cx="1420" cy="595" r="1.3"/><circle cx="1410" cy="610" r="1.2"/><circle cx="1352" cy="560" r="1.2"/><circle cx="1428" cy="580" r="1.2"/><circle cx="1390" cy="526" r="1.5"/>
</g>
<g class="n" font-size="28" fill="#000">
<text x="1138.5" y="766" textLength="41.5" lengthAdjust="spacingAndGlyphs">WT</text>
<text x="1381.7" y="766" textLength="32" lengthAdjust="spacingAndGlyphs">L2</text>
</g>
</svg>
</body></html>
